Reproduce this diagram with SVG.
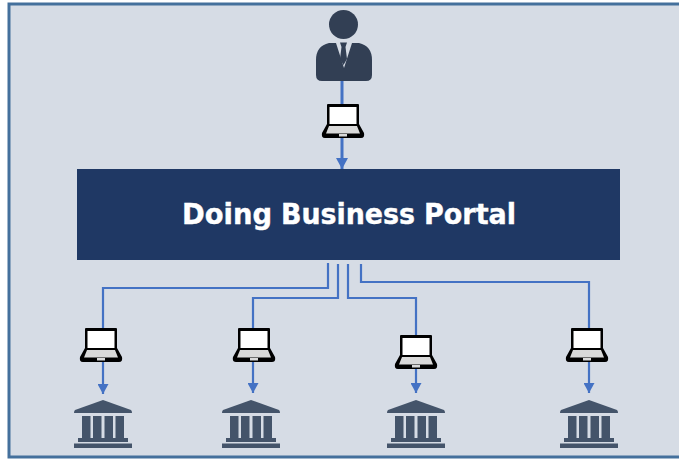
<svg xmlns="http://www.w3.org/2000/svg" width="679" height="459" viewBox="0 0 679 459">
<style>
.c{fill:none;stroke:#4472c4;stroke-width:2.200}
.t{fill:#44546a}
.p{fill:#323f54}
.l{font-family:"DejaVu Sans",sans-serif;font-weight:700;font-size:28px;fill:#fff;stroke:#fff;stroke-width:.4}
</style>
<defs>
<marker id="a" markerUnits="userSpaceOnUse" markerWidth="11" markerHeight="11" refX="10" refY="5.500" orient="auto" viewBox="0 0 11 11"><path d="M0 0L10 5.500L0 11Z" fill="#4472c4"/></marker>
<marker id="b" markerUnits="userSpaceOnUse" markerWidth="12" markerHeight="12" refX="11" refY="6" orient="auto" viewBox="0 0 12 12"><path d="M0 0L11 6L0 12Z" fill="#4472c4"/></marker>
<g id="lap">
<path d="M-15 -23H15Q16 -23 16 -22V-3L21 6Q22 11 18 11H-18Q-22 11 -21 6L-16 -3V-22Q-16 -23 -15 -23Z" fill="#000"/>
<rect x="-13.500" y="-20" width="27" height="17" fill="#fff"/>
<path d="M-14 -1H14L17 6.500H-17Z" fill="#d9d9d9"/>
<rect x="-4" y="7" width="8" height="2.500" fill="#d9d9d9"/>
</g>
<g id="bank">
<path d="M0 -24L28 -14Q29 -13 29 -11H-29Q-29 -13 -28 -14Z" class="t"/>
<rect x="-21" y="-8" width="8.500" height="23" class="t"/>
<rect x="-10" y="-8" width="8.500" height="23" class="t"/>
<rect x="1.500" y="-8" width="8.500" height="23" class="t"/>
<rect x="12.500" y="-8" width="8.500" height="23" class="t"/>
<rect x="-25" y="14" width="50" height="4" class="t"/>
<rect x="-29" y="19.500" width="58" height="4.500" class="t"/>
</g>
</defs>
<rect x="9" y="4" width="675" height="453" fill="#d6dce5" stroke="#44709c" stroke-width="3"/>
<g id="connectors">
<path class="c" d="M342 80V169" style="stroke-width:3" marker-end="url(#b)"/>
<path class="c" d="M328 263V288H103V394" marker-end="url(#a)"/>
<path class="c" d="M338 264V298H253V393" marker-end="url(#a)"/>
<path class="c" d="M348 264V298H416V393" marker-end="url(#a)"/>
<path class="c" d="M361 264V282H589V393" marker-end="url(#a)"/>
</g>
<g id="user">
<circle cx="343.500" cy="24.500" r="14.500" class="p"/>
<path d="M329 43H336L344 68L352 43H359Q372 46 372 60V75Q372 81 366 81H322Q316 81 316 75V60Q316 46 329 43Z" class="p"/>
<path d="M340 42.500H347L345.500 47L347 59L343.500 65L340 59L341.500 47Z" class="p"/>
</g>
<g id="laptop-top"><use href="#lap" x="343" y="127"/></g>
<g id="portal">
<rect x="77" y="169" width="543" height="91" fill="#1f3864"/>
<text class="l" x="182" y="224" textLength="90" lengthAdjust="spacingAndGlyphs">Doing</text>
<text class="l" x="281" y="224" textLength="134" lengthAdjust="spacingAndGlyphs">Business</text>
<text class="l" x="424" y="224" textLength="92" lengthAdjust="spacingAndGlyphs">Portal</text>
</g>
<g id="laptop-1"><use href="#lap" x="101" y="351"/></g>
<g id="laptop-2"><use href="#lap" x="254" y="351"/></g>
<g id="laptop-3"><use href="#lap" x="416" y="358"/></g>
<g id="laptop-4"><use href="#lap" x="587" y="351"/></g>
<g id="bank-1"><use href="#bank" x="103" y="424"/></g>
<g id="bank-2"><use href="#bank" x="251" y="424"/></g>
<g id="bank-3"><use href="#bank" x="416" y="424"/></g>
<g id="bank-4"><use href="#bank" x="589" y="424"/></g>
</svg>
